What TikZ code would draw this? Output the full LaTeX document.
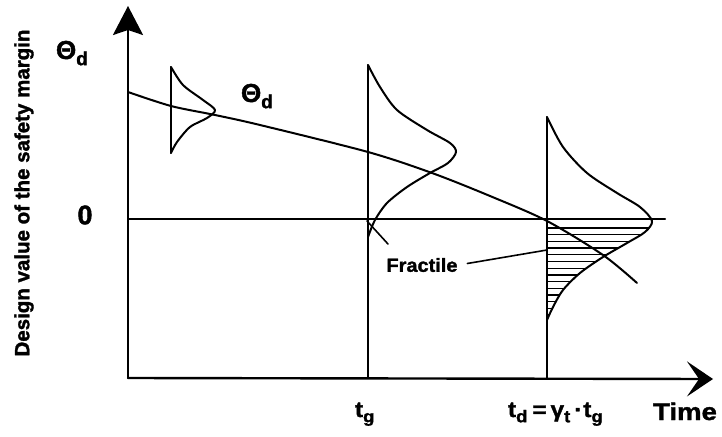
\documentclass[tikz,border=0pt]{standalone}
\usepackage{fontspec}
\setmainfont{Liberation Sans}[BoldFeatures={FakeBold=1.5}]
\usetikzlibrary{arrows.meta}
\newcommand{\lsub}[2][17]{\raisebox{-0.45ex}{\fontsize{#1}{#1}\selectfont #2}}
\newcommand{\wide}[1]{\addfontfeatures{FakeStretch=#1}}
\begin{document}
\begin{tikzpicture}[x=1pt,y=-1pt,
  line width=2pt, line join=round, line cap=round,
  lbl/.style={inner sep=0pt, font=\bfseries\fontsize{20}{24}\selectfont},
  axis/.style={line width=2.4pt},
  hatch/.style={line width=1.3pt},
  lead/.style={line width=1.6pt}]
\useasboundingbox (0,0) rectangle (722,436);

% axes
\coordinate (O) at (128,378);
\coordinate (ytop) at (128,6);
\coordinate (xend) at (713,379);
\draw[axis, -{Stealth[length=29pt,width=30pt,inset=5pt]}] (O) -- (ytop);
\draw[axis, -{Stealth[length=26pt,width=35pt,inset=12pt]}] (O) -- (xend);

% zero line
\coordinate (z0) at (128,219);
\coordinate (z1) at (665,219);
\draw (z0) -- (z1);

% vertical lines
\coordinate (v1a) at (171,67);  \coordinate (v1b) at (171,153);
\coordinate (v2a) at (368,65);  \coordinate (v2b) at (368,378);
\coordinate (v3a) at (547,117); \coordinate (v3b) at (547,378);
\draw (v1a) -- (v1b);
\draw (v2a) -- (v2b);
\draw (v3a) -- (v3b);

% Theta_d curve
\draw plot[smooth] coordinates {(128,92) (171,106) (215,115) (260,125) (368,152) (432,173) (490,196) (547,221) (603,255) (637,283)};

% distribution 1
\draw plot[smooth] coordinates {(171,67) (183,85) (203,100) (215,110) (207,118) (190,127) (177,142) (171,153)};

% distribution 2
\draw plot[smooth] coordinates {(368,65) (380,87) (397,110) (427,130) (450,143) (456,152) (448,163) (430,173) (407,187) (387,203) (375,220) (368,237)};

% distribution 3
\draw plot[smooth] coordinates {(547,117) (563,147) (587,173) (617,193) (640,207) (652,221) (645,232) (627,243) (603,257) (580,273) (563,290) (553,307) (547,320)};

% hatching
\begin{scope}
\clip (547,219) rectangle (670,330);
\clip (547,117) -- plot[smooth] coordinates {(547,117) (563,147) (587,173) (617,193) (640,207) (652,221) (645,232) (627,243) (603,257) (580,273) (563,290) (553,307) (547,320)} -- cycle;
\foreach \i in {0,...,13} \draw[hatch] (540,228+6.7*\i) -- (670,228+6.7*\i);
\end{scope}

% labels
\node[lbl, anchor=base west] (th1) at (55,59) {\fontsize{26}{28}\selectfont Θ\lsub[19]{d}};
\node[lbl, anchor=base west] (th2) at (240,102) {\fontsize{26}{28}\selectfont Θ\lsub[19]{d}};
\node[lbl, font=\bfseries\fontsize{27}{30}\selectfont] (zero) at (85,215) {0};
\node[lbl, rotate=90, font=\bfseries\fontsize{20.5}{24}\selectfont] (ylab) at (24,193) {Design value of the safety margin};
\node[lbl, anchor=base west, font=\bfseries\fontsize{22}{24}\selectfont\wide{1.1}] (tg) at (354,417) {t\lsub{g}};
\node[lbl, anchor=base west, font=\bfseries\fontsize{22}{24}\selectfont\wide{1.1}] (td) at (507,417) {t\lsub{d}\hspace{5pt}=\hspace{4pt}γ\lsub{t}\hspace{4pt}·\hspace{1pt}t\lsub{g}};
\node[lbl, anchor=base west, font=\bfseries\fontsize{24}{26}\selectfont\wide{1.15}] (time) at (652,420) {Time};
\node[lbl, font=\bfseries\fontsize{19}{24}\selectfont\wide{1.05}] (fr) at (422,265) {Fractile};

% fractile leaders
\coordinate (frA) at (547,250);
\coordinate (frB) at (367,221);
\coordinate (frC) at (388,244);
\draw[lead, shorten <=9pt] (fr.east) -- (frA);
\draw[lead] (frC) -- (frB);
\end{tikzpicture}
\end{document}
